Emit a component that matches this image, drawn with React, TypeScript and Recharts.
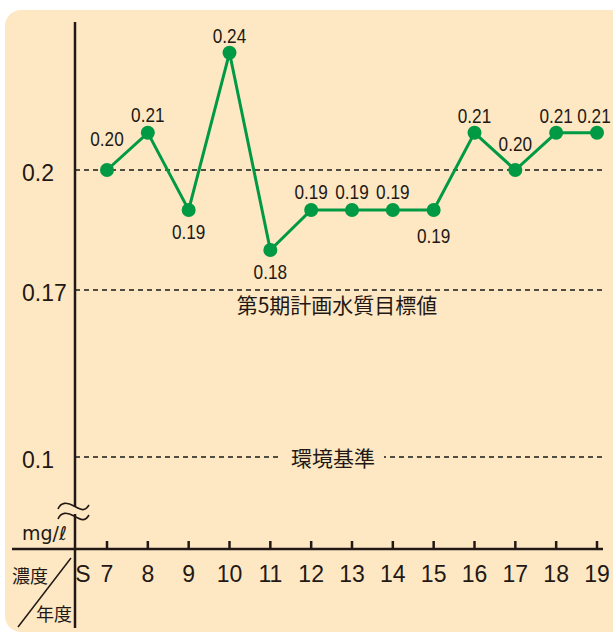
import { LineChart, Line, XAxis, YAxis, ReferenceLine, LabelList } from "recharts";

const YEARS = ["7", "8", "9", "10", "11", "12", "13", "14", "15", "16", "17", "18", "19"];
const ERA = "S";
const VALUES = [0.2, 0.21, 0.19, 0.24, 0.18, 0.19, 0.19, 0.19, 0.19, 0.21, 0.2, 0.21, 0.21];
// offset of each value label from its dot
const LABEL_DY = [-31, -18, 22, -17, 22, -18, -18, -18, 26, -17, -26, -17, -17];
const LABEL_DX = [0, 0, 0, 0, 0, 0, 0, 0, 0, 0, 0, 0, -3];

const Y_TICKS = [0.1, 0.17, 0.2];
const GUIDE_VALUES = [0.2, 0.17, 0.1];
const GUIDE_NAMES = ["", "第5期計画水質目標値", "環境基準"];

// the printed axis is broken: below 0.17 and above 0.21 it is squeezed
const AXIS_KNOTS: [number, number][] = [
  [0.1, 0.12825],
  [0.17, 0.17],
  [0.2, 0.2],
  [0.21, 0.2093],
  [0.24, 0.2293],
];
const DOMAIN: [number, number] = [0.10525, 0.237];

function toAxis(v: number) {
  for (let i = 1; i < AXIS_KNOTS.length; i++) {
    const [v0, a0] = AXIS_KNOTS[i - 1];
    const [v1, a1] = AXIS_KNOTS[i];
    if (v <= v1 || i === AXIS_KNOTS.length - 1) return a0 + ((v - v0) * (a1 - a0)) / (v1 - v0);
  }
  return v;
}

const INK = "#231815";
const GREEN = "#009944";
const BG = "#FDE8C3";
const NUM_FONT = "'Liberation Sans', Arial, sans-serif";
const JP_FONT = "'Noto Sans CJK JP', sans-serif";

const data = YEARS.map((year, i) => ({ year, value: VALUES[i], plot: toAxis(VALUES[i]) }));

function YTick({ y, payload }: any) {
  const t = Y_TICKS.find((v) => Math.abs(toAxis(v) - payload.value) < 1e-6);
  return (
    <text x={22} y={y + 3} dominantBaseline="central" fontSize={23} fontFamily={NUM_FONT} fill={INK}>
      {t === undefined ? "" : String(t)}
    </text>
  );
}

function XTick({ x, y, payload, index }: any) {
  return (
    <g>
      <line x1={x} x2={x} y1={y - 8} y2={y} stroke={INK} strokeWidth={2.5} />
      <text x={x} y={y + 25} textAnchor="middle" dominantBaseline="central" fontSize={23} fontFamily={NUM_FONT} fill={INK}>
        {payload.value}
      </text>
      {index === 0 && (
        <text x={x - 24} y={y + 25} textAnchor="middle" dominantBaseline="central" fontSize={23} fontFamily={NUM_FONT} fill={INK}>
          {ERA}
        </text>
      )}
    </g>
  );
}

// the printed labels use a condensed face; squeeze the regular one
function ValueLabel({ x, y, value, index }: any) {
  return (
    <g transform={`translate(${x + LABEL_DX[index]},${y + LABEL_DY[index]}) scale(0.86,1)`}>
      <text x={0} y={0} textAnchor="middle" dominantBaseline="central" fontSize={20} fontFamily={NUM_FONT} fill={INK}>
        {Number(value).toFixed(2)}
      </text>
    </g>
  );
}

function guideLabel(i: number) {
  const name = GUIDE_NAMES[i];
  if (!name) return undefined;
  return (props: any) => {
    const vb = props.viewBox;
    const cx = vb.x + vb.width / 2 + (i === 2 ? -6 : -2);
    if (i === 2) {
      return (
        <g>
          <rect x={cx - 51} y={vb.y - 10} width={102} height={20} fill={BG} />
          <text x={cx} y={vb.y} textAnchor="middle" dominantBaseline="central" fontSize={21} fontFamily={JP_FONT} fill={INK}>
            {name}
          </text>
        </g>
      );
    }
    return (
      <text x={cx} y={vb.y + 14} textAnchor="middle" dominantBaseline="central" fontSize={21} fontFamily={JP_FONT} fill={INK}>
        {name}
      </text>
    );
  };
}

export default function App() {
  return (
    <div style={{ position: "absolute", left: 0, top: 0, width: 613, height: 635, overflow: "hidden", background: "#fff" }}>
      <div style={{ position: "absolute", left: 5, top: 10, width: 630, height: 622, borderRadius: 16, background: BG }} />
      <div style={{ position: "absolute", left: 0, top: 0 }}>
        <LineChart width={613} height={635} data={data} margin={{ top: 22, right: 10, bottom: 56, left: 0 }}>
          <XAxis
            dataKey="year"
            padding={{ left: 32, right: 6 }}
            axisLine={{ stroke: INK, strokeWidth: 2.5 }}
            tickLine={false}
            tickSize={0}
            tickMargin={0}
            tick={<XTick />}
            interval={0}
          />
          <YAxis
            type="number"
            width={75}
            domain={DOMAIN}
            ticks={Y_TICKS.map(toAxis)}
            axisLine={{ stroke: INK, strokeWidth: 2.5 }}
            tickLine={false}
            tickSize={0}
            tick={<YTick />}
          />
          {GUIDE_VALUES.map((v, i) => (
            <ReferenceLine
              key={v}
              y={toAxis(v)}
              stroke="#1a1a1a"
              strokeWidth={1.4}
              strokeDasharray="5 4"
              label={guideLabel(i)}
            />
          ))}
          <Line
            type="linear"
            dataKey="plot"
            stroke={GREEN}
            strokeWidth={3}
            dot={{ r: 7, fill: GREEN, stroke: GREEN, strokeWidth: 0 }}
            activeDot={false}
            isAnimationActive={false}
          >
            <LabelList dataKey="value" content={<ValueLabel />} />
          </Line>
        </LineChart>
      </div>
      <svg width={613} height={635} style={{ position: "absolute", left: 0, top: 0, pointerEvents: "none" }}>
        <line x1={12} x2={75} y1={549} y2={549} stroke={INK} strokeWidth={2.5} />
        <line x1={75} x2={75} y1={549} y2={628} stroke={INK} strokeWidth={2.5} />
        <rect x={68} y={507} width={14} height={7} fill={BG} />
        <path d="M58,509 C61,502 67,502 74,506 S85,512 89,505" fill="none" stroke={INK} strokeWidth={1.6} />
        <path d="M58,519 C61,512 67,512 74,516 S85,522 89,515" fill="none" stroke={INK} strokeWidth={1.6} />
        <text x={22} y={540} fontSize={19} fontFamily="'DejaVu Sans', sans-serif" fill={INK}>
          mg/ℓ
        </text>
        <text x={12} y={575} dominantBaseline="central" fontSize={18} fontFamily={JP_FONT} fill={INK}>
          濃度
        </text>
        <text x={36} y={613} dominantBaseline="central" fontSize={18} fontFamily={JP_FONT} fill={INK}>
          年度
        </text>
        <line x1={18} y1={627} x2={71} y2={558} stroke={INK} strokeWidth={1.5} />
      </svg>
    </div>
  );
}
